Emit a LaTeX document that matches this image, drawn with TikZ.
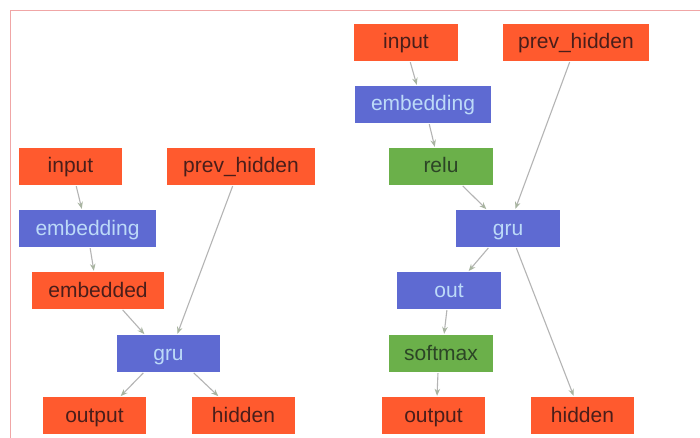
\documentclass[tikz,border=0pt]{standalone}
\usepackage{fontspec}
\setmainfont{Liberation Sans}
\usetikzlibrary{arrows.meta}
\definecolor{tensorfill}{HTML}{FF5A2E}
\definecolor{tensortext}{HTML}{4A1E1A}
\definecolor{layerfill}{HTML}{5E6AD2}
\definecolor{layertext}{HTML}{BCDAF8}
\definecolor{actfill}{HTML}{6BB04A}
\definecolor{acttext}{HTML}{2C4526}
\definecolor{edgecol}{HTML}{B4B4B4}
\definecolor{tipcol}{HTML}{A8B4A0}
\definecolor{framecol}{HTML}{F0A6A6}
\tikzset{
  box/.style={rectangle, inner sep=0pt, minimum height=37pt,
    text height=15pt, text depth=2pt,
    font=\fontsize{21}{24}\selectfont},
  tensor/.style={box, fill=tensorfill, text=tensortext},
  layer/.style={box, fill=layerfill, text=layertext},
  act/.style={box, fill=actfill, text=acttext},
  edge/.style={draw=edgecol, line width=1.1pt,
    -{Stealth[length=7pt,width=5.5pt,color=tipcol]},
    shorten <=1pt, shorten >=1pt},
}
\begin{document}
\begin{tikzpicture}[x=1pt, y=-1pt]
\useasboundingbox (0,0) rectangle (700,438);
\fill[white] (0,0) rectangle (700,438);
% frame edges
\draw[framecol, line width=1pt] (10,438) -- (10,11) -- (700,11);

% encoder
\node[tensor, minimum width=103pt] (Lin)   at (70.5,166.5) {input};
\node[tensor, minimum width=148pt] (Lprev) at (241,166.5) {prev\_hidden};
\node[layer,  minimum width=137pt] (Lemb)  at (87.5,228.5) {embedding};
\node[tensor, minimum width=132pt] (Lembd) at (98,290.5) {embedded};
\node[layer,  minimum width=103pt] (Lgru)  at (168.5,353.5) {gru};
\node[tensor, minimum width=103pt] (Lout)  at (94.5,415.5) {output};
\node[tensor, minimum width=103pt] (Lhid)  at (243.5,415.5) {hidden};

% decoder
\node[tensor, minimum width=104pt] (Rin)   at (406,42.5) {input};
\node[tensor, minimum width=146pt] (Rprev) at (576,42.5) {prev\_hidden};
\node[layer,  minimum width=136pt] (Remb)  at (423,104.5) {embedding};
\node[act,    minimum width=104pt] (Rrelu) at (441,166.5) {relu};
\node[layer,  minimum width=104pt] (Rgru)  at (508,228.5) {gru};
\node[layer,  minimum width=104pt] (Rlin)  at (449,290.5) {out};
\node[act,    minimum width=104pt] (Rsm)   at (441,353.5) {softmax};
\node[tensor, minimum width=103pt] (Rout)  at (433.5,415.5) {output};
\node[tensor, minimum width=103pt] (Rhid)  at (582.5,415.5) {hidden};

% encoder connectors
\draw[edge] ([xshift=5.5pt]Lin.south)   -- ([xshift=-5.5pt]Lemb.north);
\draw[edge] ([xshift=2.5pt]Lemb.south)  -- ([xshift=-4pt]Lembd.north);
\draw[edge] ([xshift=-8pt]Lprev.south)  -- ([xshift=8.5pt]Lgru.north);
\draw[edge] ([xshift=24pt]Lembd.south)  -- ([xshift=-23.5pt]Lgru.north);
\draw[edge] ([xshift=-24.5pt]Lgru.south) -- ([xshift=25.5pt]Lout.north);
\draw[edge] ([xshift=24.5pt]Lgru.south) -- ([xshift=-24.5pt]Lhid.north);

% decoder connectors
\draw[edge] ([xshift=4pt]Rin.south)     -- ([xshift=-6pt]Remb.north);
\draw[edge] ([xshift=6pt]Remb.south)    -- ([xshift=-6pt]Rrelu.north);
\draw[edge] ([xshift=21pt]Rrelu.south)  -- ([xshift=-21pt]Rgru.north);
\draw[edge] ([xshift=-6pt]Rprev.south)  -- ([xshift=7pt]Rgru.north);
\draw[edge] ([xshift=-19pt]Rgru.south)  -- ([xshift=19pt]Rlin.north);
\draw[edge] ([xshift=8pt]Rgru.south)    -- ([xshift=-8.5pt]Rhid.north);
\draw[edge] ([xshift=-2pt]Rlin.south)   -- ([xshift=3pt]Rsm.north);
\draw[edge] ([xshift=-3pt]Rsm.south)    -- ([xshift=3.5pt]Rout.north);
\end{tikzpicture}
\end{document}
